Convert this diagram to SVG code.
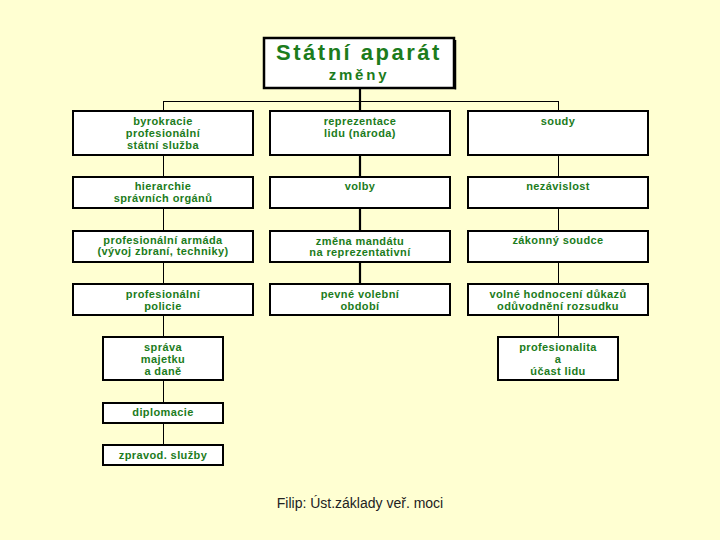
<svg xmlns="http://www.w3.org/2000/svg" width="720" height="540" viewBox="0 0 720 540">
<style>
.box{fill:#ffffff;stroke:#000000;stroke-width:2}
.t{font-family:"Liberation Sans",Arial,sans-serif;font-weight:bold;font-size:11px;letter-spacing:0.4px;fill:#1c7c1c;text-anchor:middle}
.thin{stroke:#000000;stroke-width:1;fill:none}
.thick{stroke:#000000;stroke-width:2.2;fill:none}
</style>
<rect x="0" y="0" width="720" height="540" fill="#ffffd2"/>
<g id="connectors">
<line class="thick" x1="360" y1="88" x2="360" y2="111"/>
<line class="thin" x1="163.5" y1="101.5" x2="558.5" y2="101.5"/>
<line class="thin" x1="163.5" y1="101" x2="163.5" y2="111"/>
<line class="thin" x1="558.5" y1="101" x2="558.5" y2="111"/>
<line class="thin" x1="163.5" y1="155" x2="163.5" y2="177"/>
<line class="thin" x1="163.5" y1="208" x2="163.5" y2="231"/>
<line class="thin" x1="163.5" y1="262" x2="163.5" y2="284"/>
<line class="thin" x1="163.5" y1="315" x2="163.5" y2="337"/>
<line class="thin" x1="163.5" y1="380" x2="163.5" y2="403"/>
<line class="thin" x1="163.5" y1="423" x2="163.5" y2="445"/>
<line class="thick" x1="360" y1="155" x2="360" y2="177"/>
<line class="thick" x1="360" y1="208" x2="360" y2="231"/>
<line class="thick" x1="360" y1="262" x2="360" y2="284"/>
<line class="thin" x1="558.5" y1="155" x2="558.5" y2="177"/>
<line class="thin" x1="558.5" y1="208" x2="558.5" y2="231"/>
<line class="thin" x1="558.5" y1="262" x2="558.5" y2="284"/>
<line class="thin" x1="558.5" y1="315" x2="558.5" y2="337"/>
</g>
<g id="title">
<rect x="264" y="38" width="190" height="50" fill="#ffffff" stroke="#000000" stroke-width="2.5"/>
<line x1="455.5" y1="40" x2="455.5" y2="89.5" stroke="#000" stroke-width="1.5"/>
<text x="359" y="60" font-family="Liberation Sans,Arial,sans-serif" font-weight="bold" font-size="22px" letter-spacing="2.5" fill="#1c7c1c" text-anchor="middle">Státní aparát</text>
<text x="359" y="80" font-family="Liberation Sans,Arial,sans-serif" font-weight="bold" font-size="15px" letter-spacing="2.8" fill="#1c7c1c" text-anchor="middle">změny</text>
</g>
<g id="n-byrokracie"><rect class="box" x="73" y="111" width="180" height="44"/>
<text class="t" x="163" y="125">byrokracie</text><text class="t" x="163" y="137">profesionální</text><text class="t" x="163" y="149">státní služba</text></g>
<g id="n-hierarchie"><rect class="box" x="73" y="177" width="180" height="31"/>
<text class="t" x="163" y="190">hierarchie</text><text class="t" x="163" y="202">správních orgánů</text></g>
<g id="n-armada"><rect class="box" x="73" y="231" width="180" height="31"/>
<text class="t" x="163" y="244">profesionální armáda</text><text class="t" x="163" y="255" font-size="10px">(vývoj zbraní, techniky)</text></g>
<g id="n-policie"><rect class="box" x="73" y="284" width="180" height="31"/>
<text class="t" x="163" y="298">profesionální</text><text class="t" x="163" y="310">policie</text></g>
<g id="n-sprava"><rect class="box" x="103" y="337" width="120" height="43"/>
<text class="t" x="163" y="351">správa</text><text class="t" x="163" y="363">majetku</text><text class="t" x="163" y="375">a daně</text></g>
<g id="n-diplomacie"><rect class="box" x="103" y="403" width="120" height="20"/>
<text class="t" x="163" y="416">diplomacie</text></g>
<g id="n-zpravod"><rect class="box" x="103" y="445" width="120" height="20"/>
<text class="t" x="163" y="459">zpravod. služby</text></g>
<g id="n-reprezentace"><rect class="box" x="270" y="111" width="180" height="44"/>
<text class="t" x="360" y="125">reprezentace</text><text class="t" x="360" y="137">lidu (národa)</text></g>
<g id="n-volby"><rect class="box" x="270" y="177" width="180" height="31"/>
<text class="t" x="360" y="190">volby</text></g>
<g id="n-zmena"><rect class="box" x="270" y="231" width="180" height="31"/>
<text class="t" x="360" y="245">změna mandátu</text><text class="t" x="360" y="256">na reprezentativní</text></g>
<g id="n-obdobi"><rect class="box" x="270" y="284" width="180" height="31"/>
<text class="t" x="360" y="298">pevné volební</text><text class="t" x="360" y="310">období</text></g>
<g id="n-soudy"><rect class="box" x="468" y="111" width="180" height="44"/>
<text class="t" x="558" y="125">soudy</text></g>
<g id="n-nezavislost"><rect class="box" x="468" y="177" width="180" height="31"/>
<text class="t" x="558" y="190">nezávislost</text></g>
<g id="n-zakonny"><rect class="box" x="468" y="231" width="180" height="31"/>
<text class="t" x="558" y="244">zákonný soudce</text></g>
<g id="n-dukazy"><rect class="box" x="468" y="284" width="180" height="31"/>
<text class="t" x="558" y="298">volné hodnocení důkazů</text><text class="t" x="558" y="310">odůvodnění rozsudku</text></g>
<g id="n-profesionalita"><rect class="box" x="498" y="337" width="120" height="43"/>
<text class="t" x="558" y="351">profesionalita</text><text class="t" x="558" y="363">a</text><text class="t" x="558" y="375">účast lidu</text></g>
<text x="360" y="508" font-family="Liberation Sans,Arial,sans-serif" font-size="14px" fill="#222222" text-anchor="middle">Filip: Úst.základy veř. moci</text>
</svg>
